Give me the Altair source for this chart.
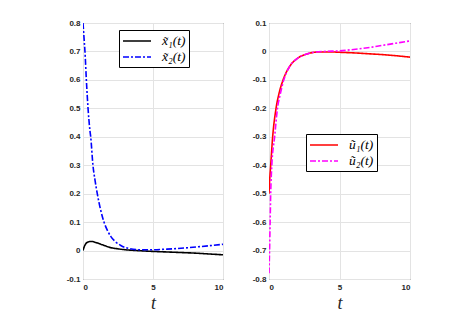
import altair as alt
import pandas as pd

# ---- data ----
x_names = ["x̃₁(t)", "x̃₂(t)"]
x_colors = ["#000000", "#0000ff"]

t_x1 = [0, 0.1, 0.2, 0.35, 0.5, 0.65, 0.8, 1.0, 1.4, 2.0, 2.5, 3.0, 3.5, 4.2, 5, 6, 7, 8, 9, 10]
v_x1 = [0, 0.015, 0.024, 0.030, 0.032, 0.032, 0.030, 0.027, 0.020, 0.010, 0.006, 0.003, 0.001,
        -0.001, -0.003, -0.005, -0.007, -0.009, -0.012, -0.015]

t_x2 = [0, 0.07, 0.14, 0.24, 0.36, 0.5, 0.55, 0.71, 0.85, 1.02, 1.25, 1.5, 1.75, 1.98, 2.3, 2.7,
        3.3, 4.0, 5, 6, 7, 8.4, 10]
v_x2 = [0.8, 0.75, 0.7, 0.6, 0.5, 0.42, 0.4, 0.3, 0.25, 0.2, 0.145, 0.1, 0.07, 0.05, 0.032, 0.018,
        0.007, 0.003, 0.003, 0.005, 0.008, 0.014, 0.022]

u_names = ["ũ₁(t)", "ũ₂(t)"]
u_colors = ["#ff0000", "#ff00ff"]

t_u1 = [0, 0.05, 0.12, 0.26, 0.5, 0.75, 1.0, 1.5, 2.0, 2.75, 3.5, 4.5, 5, 6, 7, 8, 9, 10]
v_u1 = [-0.5, -0.45, -0.4, -0.3, -0.2, -0.14, -0.1, -0.05, -0.025, -0.008, -0.002, -0.002,
        -0.003, -0.005, -0.008, -0.011, -0.015, -0.02]

t_u2 = [0, 0.04, 0.08, 0.12, 0.2, 0.4, 0.6, 0.8, 1.05, 1.5, 2.0, 2.75, 3.5, 4.5, 5, 6, 7, 8, 9, 10]
v_u2 = [-0.78, -0.7, -0.6, -0.5, -0.4, -0.3, -0.2, -0.15, -0.1, -0.05, -0.025, -0.008, -0.001,
        0.001, 0.002, 0.007, 0.013, 0.021, 0.029, 0.037]

x_ticks = [0, 5, 10]
y_ticks_left = [-0.1, 0, 0.1, 0.2, 0.3, 0.4, 0.5, 0.6, 0.7, 0.8]
y_ticks_right = [-0.8, -0.7, -0.6, -0.5, -0.4, -0.3, -0.2, -0.1, 0, 0.1]


def long_df(names, series):
    rows = []
    for name, (ts, vs) in zip(names, series):
        for i, (t, v) in enumerate(zip(ts, vs)):
            rows.append({"s": name, "t": t, "v": v, "i": i})
    return pd.DataFrame(rows)


left_df = long_df(x_names, [(t_x1, v_x1), (t_x2, v_x2)])
right_df = long_df(u_names, [(t_u1, v_u1), (t_u2, v_u2)])

axis_common = dict(
    labelFont="Liberation Sans", labelFontSize=8, labelFontWeight="bold",
    labelColor="#262626", grid=True, gridColor="#e3e3e3", ticks=False, domain=False,
)
dash_range = [[1, 0], [6, 2, 2, 2]]


def legend(x, y):
    return alt.Legend(
        orient="none", legendX=x, legendY=y, title=None, direction="vertical",
        fillColor="white", strokeColor="#000000", padding=3, cornerRadius=0,
        labelFont="Liberation Serif", labelFontStyle="italic", labelFontSize=13.5,
        labelColor="#000000", symbolType="M-2,0H2", symbolSize=196, symbolStrokeWidth=1.5,
        symbolOffset=7, labelOffset=17, rowPadding=1,
    )


def panel(df, names, colors, ydom, yticks, lx, ly, w):
    return alt.Chart(df).mark_line(strokeWidth=1.6, interpolate="monotone", clip=True).encode(
        x=alt.X("t:Q", scale=alt.Scale(domain=[0, 10], nice=False),
                axis=alt.Axis(values=x_ticks, title="t", titleFont="Liberation Serif",
                              titleFontStyle="italic", titleFontSize=18, titleFontWeight="normal",
                              titleColor="#262626", titlePadding=3, labelPadding=4, **axis_common)),
        y=alt.Y("v:Q", scale=alt.Scale(domain=ydom, nice=False, zero=False),
                axis=alt.Axis(values=yticks, title=None, format=".1~f",
                              labelExpr="replace(datum.label, '\u2212', '-')",
                              minExtent=20, maxExtent=20, labelPadding=3, **axis_common)),
        color=alt.Color("s:N", scale=alt.Scale(domain=names, range=colors), legend=legend(lx, ly)),
        strokeDash=alt.StrokeDash("s:N", scale=alt.Scale(domain=names, range=dash_range),
                                  legend=legend(lx, ly)),
        order="i:Q",
    ).properties(width=w, height=256)


left = panel(left_df, x_names, x_colors, [-0.1, 0.8], y_ticks_left, 36, 7, 140)
right = panel(right_df, u_names, u_colors, [-0.8, 0.1], y_ticks_right, 37, 111, 141)

chart = alt.hconcat(left, right, spacing=24).resolve_scale(
    color="independent", strokeDash="independent"
).resolve_legend(color="independent", strokeDash="independent").properties(
    padding={"left": 54, "top": 10, "right": 5, "bottom": 0}
).configure_view(stroke="#404040", strokeWidth=1)

chart.save("out.html", embed_options={"renderer": "svg", "actions": False})
